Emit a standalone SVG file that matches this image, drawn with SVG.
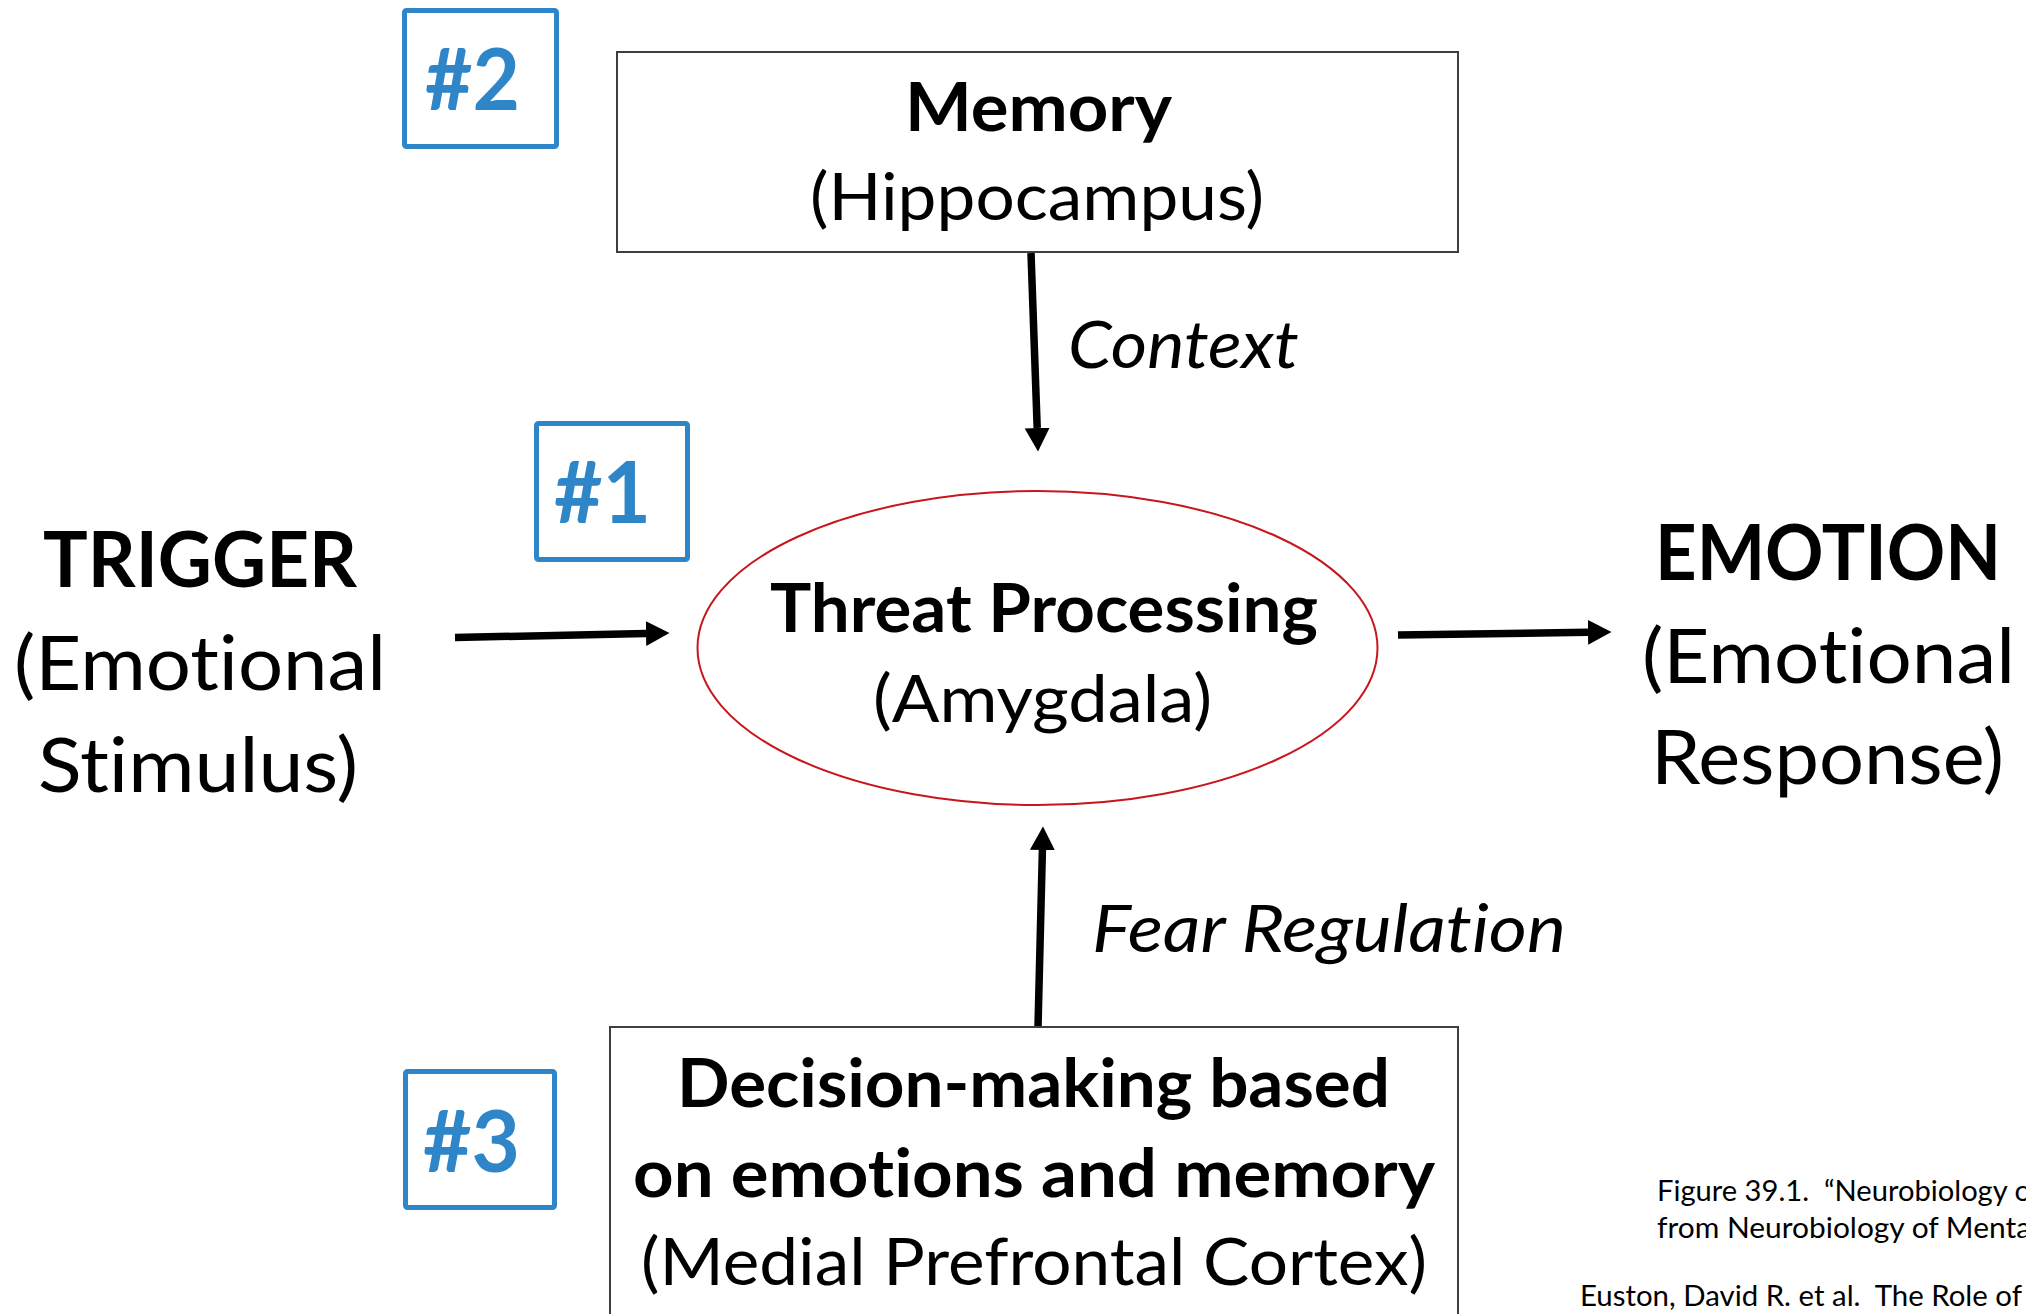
<svg xmlns="http://www.w3.org/2000/svg" width="2026" height="1314" viewBox="0 0 2026 1314">
  <style>
    .t { font-family: Lato, "Open Sans", "Liberation Sans", sans-serif; fill: #000; font-variant-ligatures: none; }
    .b { font-weight: 700; }
    .i { font-style: italic; }
    .box { fill: #fff; stroke: #3f3f3f; stroke-width: 2; }
    .badge { fill: none; stroke: #2E86C8; stroke-width: 5; }
    .badge-t { font-family: Lato, "Open Sans", "Liberation Sans", sans-serif; font-weight: 700; font-size: 86px; fill: #2E86C8; }
    .main { font-size: 66px; }
    .side { font-size: 76px; }
    .note { font-size: 28px; }
    .conn { stroke: #000; stroke-width: 7.5; fill: none; }
  </style>
  <defs>
    <marker id="head" markerUnits="userSpaceOnUse" markerWidth="26" markerHeight="28" refX="0" refY="12.5" orient="auto" viewBox="0 0 26 25">
      <path d="M0,0 L23.5,12.5 L0,25 Z" fill="#000"/>
    </marker>
  </defs>
  <rect width="2026" height="1314" fill="#fff"/>

  <!-- connectors -->
  <g id="connectors">
    <path class="conn" d="M455,637.5 L646,633.5" marker-end="url(#head)"/>
    <path class="conn" d="M1398,635 L1588,632.3" marker-end="url(#head)"/>
    <path class="conn" d="M1031,253 L1037.2,428" marker-end="url(#head)"/>
    <path class="conn" d="M1038,1027 L1042.4,850" marker-end="url(#head)"/>
  </g>

  <!-- edge labels -->
  <g id="labels">
    <text class="t i main" x="1068" y="368" textLength="231" lengthAdjust="spacingAndGlyphs">Context</text>
    <text class="t i main" x="1092" y="952" textLength="474" lengthAdjust="spacingAndGlyphs">Fear Regulation</text>
  </g>

  <!-- Memory (Hippocampus) -->
  <g id="memory">
    <rect class="box" x="617" y="52" width="841" height="200"/>
    <text class="t b main" x="905" y="131" textLength="267" lengthAdjust="spacingAndGlyphs">Memory</text>
    <text class="t main" x="810" y="220" textLength="454" lengthAdjust="spacingAndGlyphs">(Hippocampus)</text>
  </g>

  <!-- Threat processing (Amygdala) -->
  <g id="amygdala">
    <ellipse cx="1037.5" cy="648" rx="340" ry="157" fill="#fff" stroke="#C8161D" stroke-width="2"/>
    <text class="t b main" x="770" y="632" textLength="548" lengthAdjust="spacingAndGlyphs">Threat Processing</text>
    <text class="t main" x="873" y="722" textLength="339" lengthAdjust="spacingAndGlyphs">(Amygdala)</text>
  </g>

  <!-- Trigger -->
  <g id="trigger">
    <text class="t b side" x="43" y="587" textLength="314" lengthAdjust="spacingAndGlyphs">TRIGGER</text>
    <text class="t side" x="14" y="690" textLength="372" lengthAdjust="spacingAndGlyphs">(Emotional</text>
    <text class="t side" x="38" y="792" textLength="320" lengthAdjust="spacingAndGlyphs">Stimulus)</text>
  </g>

  <!-- Emotion -->
  <g id="emotion">
    <text class="t b side" x="1655" y="580" textLength="346" lengthAdjust="spacingAndGlyphs">EMOTION</text>
    <text class="t side" x="1642" y="683" textLength="373" lengthAdjust="spacingAndGlyphs">(Emotional</text>
    <text class="t side" x="1651" y="784" textLength="353" lengthAdjust="spacingAndGlyphs">Response)</text>
  </g>

  <!-- Decision-making (Medial Prefrontal Cortex) -->
  <g id="mpfc">
    <rect class="box" x="610" y="1027" width="848" height="310"/>
    <text class="t b main" x="677" y="1107" textLength="713" lengthAdjust="spacingAndGlyphs">Decision-making based</text>
    <text class="t b main" x="633" y="1197" textLength="802" lengthAdjust="spacingAndGlyphs">on emotions and memory</text>
    <text class="t main" x="641" y="1285" textLength="786" lengthAdjust="spacingAndGlyphs">(Medial Prefrontal Cortex)</text>
  </g>

  <!-- numbered markers -->
  <g id="badge-2">
    <rect class="badge" x="404.5" y="10.5" width="152" height="136" rx="2"/>
    <text class="badge-t" x="425" y="110" textLength="95" lengthAdjust="spacingAndGlyphs">#2</text>
  </g>
  <g id="badge-1">
    <rect class="badge" x="536.5" y="423.5" width="151" height="136" rx="2"/>
    <text class="badge-t" x="554" y="523" textLength="97" lengthAdjust="spacingAndGlyphs">#1</text>
  </g>
  <g id="badge-3">
    <rect class="badge" x="405.5" y="1071.5" width="149" height="136" rx="2"/>
    <text class="badge-t" x="423" y="1172" textLength="97" lengthAdjust="spacingAndGlyphs">#3</text>
  </g>

  <!-- source note -->
  <g id="source-note">
    <text class="t note" xml:space="preserve" x="1657" y="1201" textLength="374" lengthAdjust="spacingAndGlyphs">Figure 39.1.  “Neurobiology o</text>
    <text class="t note" x="1657" y="1238" textLength="374" lengthAdjust="spacingAndGlyphs">from Neurobiology of Menta</text>
    <text class="t note" xml:space="preserve" x="1580" y="1306" textLength="442" lengthAdjust="spacingAndGlyphs">Euston, David R. et al.  The Role of</text>
  </g>
</svg>
